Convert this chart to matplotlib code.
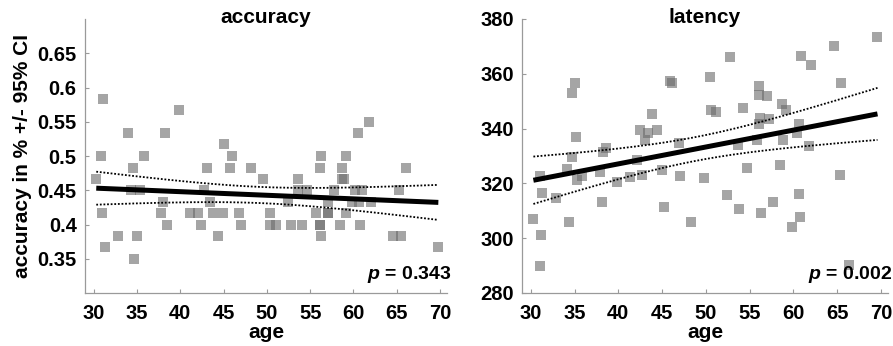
import matplotlib
matplotlib.use("Agg")
import matplotlib.pyplot as plt
import numpy as np

plt.rcParams['font.family'] = ['Liberation Sans', 'DejaVu Sans']
plt.rcParams['font.weight'] = 'bold'
plt.rcParams['mathtext.fontset'] = 'custom'
plt.rcParams['mathtext.it'] = 'Liberation Sans:italic'
plt.rcParams['mathtext.rm'] = 'Liberation Sans:bold'

# accuracy panel
age_acc = [30.3, 31.1, 30.9, 31.0, 31.3, 32.8, 34.0, 34.6, 34.3, 35.3, 34.95, 34.7,
           35.8, 37.8, 38.0, 38.2, 38.5, 39.8, 41.1, 42.0, 42.4, 42.7, 43.05, 43.4,
           43.8, 44.4, 44.9, 45.1, 45.8, 46.0, 46.8, 47.0, 48.2, 49.6, 50.4, 50.4,
           51.0, 52.4, 52.8, 53.6, 53.6, 54.6, 54.1, 55.7, 56.1, 56.2, 56.1, 56.1,
           56.2, 57.1, 57.1, 57.1, 57.7, 58.5, 58.7, 58.7, 58.9, 59.1, 59.1, 59.8,
           60.5, 60.2, 61.0, 60.7, 60.6, 61.8, 62.0, 64.6, 65.5, 65.3, 66.1, 69.8]
acc = [0.467, 0.583, 0.500, 0.417, 0.367, 0.383, 0.533, 0.483, 0.450, 0.450, 0.383, 0.350,
       0.500, 0.417, 0.433, 0.533, 0.400, 0.567, 0.417, 0.417, 0.400, 0.450, 0.483, 0.433,
       0.417, 0.383, 0.417, 0.517, 0.483, 0.500, 0.417, 0.400, 0.483, 0.467, 0.417, 0.400,
       0.400, 0.433, 0.400, 0.467, 0.450, 0.450, 0.400, 0.417, 0.483, 0.500, 0.400, 0.400,
       0.383, 0.417, 0.417, 0.433, 0.450, 0.400, 0.483, 0.467, 0.467, 0.500, 0.417, 0.433,
       0.533, 0.450, 0.450, 0.400, 0.433, 0.550, 0.433, 0.383, 0.383, 0.450, 0.483, 0.367]

# latency panel
age_lat = [30.3, 31.1, 31.3, 31.15, 31.0, 32.9, 34.1, 34.7, 34.4, 34.75, 35.05, 35.2,
           35.3, 35.9, 37.9, 38.1, 38.3, 38.6, 39.8, 41.3, 42.1, 42.5, 42.75, 43.1,
           43.4, 43.9, 44.4, 45.0, 45.2, 45.9, 46.1, 46.9, 47.0, 48.3, 49.75, 50.5,
           50.55, 51.1, 52.4, 52.8, 53.7, 53.75, 54.2, 54.7, 55.8, 56.1, 56.1, 56.2,
           56.1, 56.3, 57.0, 57.2, 57.7, 58.5, 58.7, 58.8, 59.1, 59.8, 60.4, 60.6,
           60.6, 60.8, 60.9, 61.8, 62.0, 64.65, 65.3, 65.4, 66.3, 69.6]
lat = [307.0, 322.8, 316.4, 301.3, 289.7, 314.7, 325.3, 329.7, 305.9, 353.1, 356.8, 336.8,
       321.2, 322.7, 324.2, 313.3, 331.5, 333.0, 320.6, 322.4, 328.7, 339.4, 323.0, 335.8,
       338.5, 345.5, 339.6, 324.8, 311.5, 357.5, 356.8, 334.9, 322.8, 305.9, 322.1, 358.8,
       346.7, 346.1, 315.8, 366.2, 333.9, 310.5, 347.6, 325.5, 336.0, 355.5, 352.2, 343.9,
       341.6, 309.3, 351.8, 343.5, 313.3, 326.8, 348.8, 335.8, 346.9, 304.2, 338.4, 341.6,
       316.1, 307.6, 366.5, 333.6, 363.2, 370.1, 323.2, 356.6, 290.3, 373.3]

titles = ['accuracy', 'latency']
p_values = ['0.343', '0.002']
ylims = [(0.3, 0.7), (280, 380)]
yticks = [[0.35, 0.4, 0.45, 0.5, 0.55, 0.6, 0.65], [280, 300, 320, 340, 360, 380]]
ytick_labels = [['0.35', '0.4', '0.45', '0.5', '0.55', '0.6', '0.65'],
                ['280', '300', '320', '340', '360', '380']]
xticks = [30, 35, 40, 45, 50, 55, 60, 65, 70]

T_CRIT = 1.994  # t(0.975, df~70)

fig = plt.figure(figsize=(8.93, 3.46), dpi=100)
ax1 = fig.add_axes([85/893, 1-293/346, (447-85)/893, (293-19)/346])
ax2 = fig.add_axes([522/893, 1-293/346, (888-522)/893, (293-19)/346])

for i, (ax, xs, ys) in enumerate([(ax1, age_acc, acc), (ax2, age_lat, lat)]):
    xs = np.array(xs)
    ys = np.array(ys)
    ax.scatter(xs, ys, s=48, marker='s', color='#6a6a6a', alpha=0.6,
               linewidths=0, zorder=2)

    # linear fit with 95% CI of the mean
    slope, icpt = np.polyfit(xs, ys, 1)
    n = len(xs)
    resid = ys - (slope*xs + icpt)
    s = np.sqrt(np.sum(resid**2)/(n-2))
    sxx = np.sum((xs - xs.mean())**2)
    xx = np.linspace(xs.min(), xs.max(), 200)
    yy = slope*xx + icpt
    half = T_CRIT*s*np.sqrt(1/n + (xx - xs.mean())**2/sxx)
    ax.plot(xx, yy, color='black', lw=3.6, zorder=4, solid_capstyle='butt')
    ax.plot(xx, yy + half, color='black', lw=1.3, ls=(0, (1, 1)), zorder=3)
    ax.plot(xx, yy - half, color='black', lw=1.3, ls=(0, (1, 1)), zorder=3)

    ax.set_xlim(29.0, 70.8)
    ax.set_ylim(*ylims[i])
    ax.set_xticks(xticks)
    ax.set_yticks(yticks[i])
    ax.set_yticklabels(ytick_labels[i])
    for sp in ['top', 'right']:
        ax.spines[sp].set_visible(False)
    for sp in ['left', 'bottom']:
        ax.spines[sp].set_color('#9a9a9a')
        ax.spines[sp].set_linewidth(0.9)
    ax.tick_params(direction='in', length=3, width=0.8, color='#9a9a9a',
                   labelsize=14.5, pad=6)
    ax.tick_params(axis='x', pad=8)
    for lbl in ax.get_xticklabels() + ax.get_yticklabels():
        lbl.set_fontweight('bold')
    ax.set_title(titles[i], fontsize=15, fontweight='bold', y=0.985, pad=0)
    ax.set_xlabel('age', fontsize=15, fontweight='bold', labelpad=0)
    ax.text(1.012, 0.03, r'$p$ = ' + p_values[i], transform=ax.transAxes,
            ha='right', va='bottom', fontsize=14, fontweight='bold')

ax1.set_ylabel('accuracy in % +/- 95% CI', fontsize=15, fontweight='bold', labelpad=4)

fig.savefig('out.png', dpi=100)
